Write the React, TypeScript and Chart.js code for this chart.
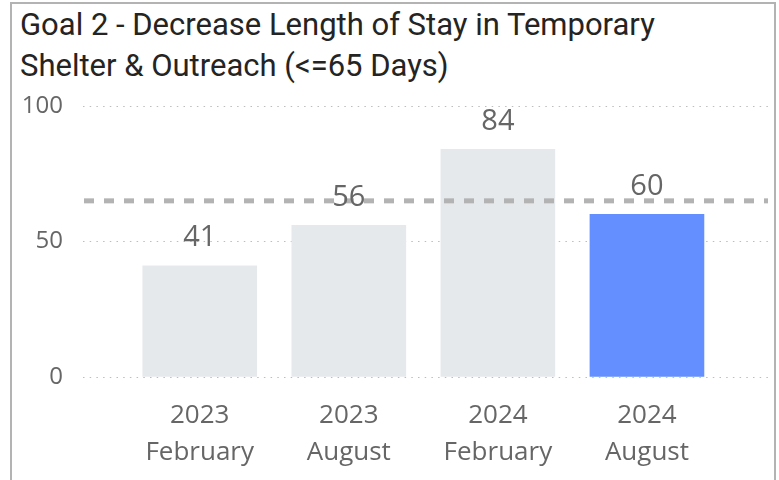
import React, { useEffect, useRef } from "react";
import { Chart, registerables } from "chart.js";

Chart.register(...registerables);

// ---- data ----
const TITLE_LINES = [
  "Goal 2 - Decrease Length of Stay in Temporary",
  "Shelter & Outreach (<=65 Days)",
];
const YEARS = ["2023", "2023", "2024", "2024"];
const MONTHS = ["February", "August", "February", "August"];
const VALUES = [41, 56, 84, 60];
const TARGET = 65;
const Y_TICKS = [0, 50, 100];
const HIGHLIGHT_INDEX = 3;

// ---- styles ----
const BAR_COLOR = "#E6E9EC";
const HIGHLIGHT_COLOR = "#648FFF";
const TEXT_COLOR = "#666666";
const GRID_COLOR = "#BDBDBD";
const TARGET_COLOR = "#B3B3B3";
const FONT = "'Open Sans', 'Noto Sans', sans-serif";

const targetLinePlugin = {
  id: "targetLine",
  afterDatasetsDraw(chart: any) {
    const { ctx, chartArea, scales } = chart;
    const py = scales.y.getPixelForValue(TARGET);
    ctx.save();
    ctx.strokeStyle = TARGET_COLOR;
    ctx.lineWidth = 5;
    ctx.setLineDash([10, 10]);
    ctx.beginPath();
    ctx.moveTo(chartArea.left + 1, py);
    ctx.lineTo(chartArea.right, py);
    ctx.stroke();
    ctx.restore();
  },
};

const dataLabelPlugin = {
  id: "dataLabels",
  afterDatasetsDraw(chart: any) {
    const { ctx } = chart;
    const meta = chart.getDatasetMeta(0);
    ctx.save();
    ctx.fillStyle = TEXT_COLOR;
    ctx.font = `29px ${FONT}`;
    ctx.textAlign = "center";
    ctx.textBaseline = "middle";
    meta.data.forEach((bar: any, i: number) => {
      ctx.fillText(String(VALUES[i]), bar.x, bar.y - 28);
    });
    ctx.restore();
  },
};

function BarChart() {
  const ref = useRef<HTMLCanvasElement | null>(null);
  useEffect(() => {
    if (!ref.current) return;
    const chart = new Chart(ref.current, {
      type: "bar",
      data: {
        datasets: [
          {
            data: VALUES.map((v, i) => ({ x: i, y: v })),
            backgroundColor: VALUES.map((_, i) =>
              i === HIGHLIGHT_INDEX ? HIGHLIGHT_COLOR : BAR_COLOR
            ),
            barThickness: 114,
            borderWidth: 0,
          },
        ],
      },
      options: {
        responsive: false,
        animation: false,
        devicePixelRatio: 1,
        layout: { padding: { top: 106, right: 11, left: 0, bottom: 0 } },
        plugins: {
          legend: { display: false },
          tooltip: { enabled: false },
          title: { display: false },
        },
        scales: {
          x: {
            type: "linear",
            min: -0.783,
            max: 3.812,
            offset: false,
            grid: { display: false, drawTicks: false, offset: false },
            border: { display: false },
            afterBuildTicks: (scale: any) => {
              scale.ticks = YEARS.map((_, i) => ({ value: i }));
            },
            afterFit: (scale: any) => {
              scale.height = 103;
            },
            ticks: {
              color: TEXT_COLOR,
              font: { family: FONT, size: 26, lineHeight: 1.42 },
              padding: 20,
              maxRotation: 0,
              autoSkip: false,
              callback: (value: any) => {
                const i = Math.round(Number(value));
                return [YEARS[i], MONTHS[i]];
              },
            },
          },
          y: {
            min: Y_TICKS[0],
            max: Y_TICKS[Y_TICKS.length - 1],
            afterBuildTicks: (scale: any) => {
              scale.ticks = Y_TICKS.map((v) => ({ value: v }));
            },
            afterFit: (scale: any) => {
              scale.width = 83;
            },
            grid: { color: GRID_COLOR, lineWidth: 1, drawTicks: false },
            border: { display: false, dash: [1.5, 5.2] },
            ticks: {
              color: TEXT_COLOR,
              font: { family: FONT, size: 24 },
              padding: 20,
            },
          },
        },
      },
      plugins: [targetLinePlugin, dataLabelPlugin],
    } as any);
    return () => chart.destroy();
  }, []);
  return (
    <canvas
      ref={ref}
      width={779}
      height={480}
      style={{ position: "fixed", left: 0, top: 0, width: 779, height: 480 }}
    />
  );
}

export default function App() {
  return (
    <div style={{ position: "fixed", left: 0, top: 0, width: 779, height: 480, overflow: "hidden", background: "#fff" }}>
      <div
        style={{
          position: "absolute",
          left: 10,
          top: 2,
          width: 766,
          height: 520,
          boxSizing: "border-box",
          border: "2px solid #B3B3B3",
        }}
      />
      <div
        style={{
          position: "absolute",
          left: 20,
          top: 4,
          fontFamily: "Roboto, sans-serif",
          fontSize: 31,
          lineHeight: "41px",
          color: "#252423",
          whiteSpace: "nowrap",
        }}
      >
        {TITLE_LINES.map((l, i) => (
          <div key={i}>{l}</div>
        ))}
      </div>
      <BarChart />
    </div>
  );
}
